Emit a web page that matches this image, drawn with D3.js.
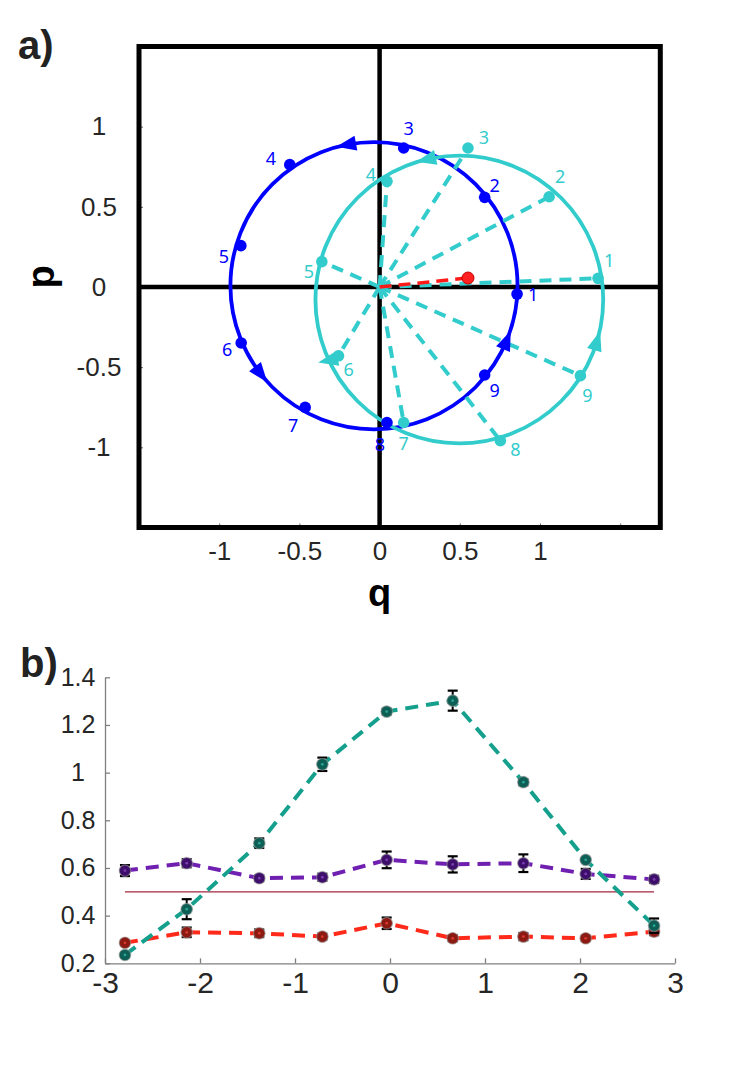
<!DOCTYPE html>
<html>
<head>
<meta charset="utf-8">
<script src="https://cdn.jsdelivr.net/npm/d3@7"></script>
<style>
  body { margin: 0; background: #fff; }
  svg { display: block; font-family: "Liberation Sans", Arial, sans-serif; }
</style>
</head>
<body>
<div id="chart"></div>
<script>
// ---------- data: panel a (phase space) ----------
const blueQ = [0.857, 0.655, 0.150, -0.560, -0.865, -0.863, -0.464, 0.046, 0.655];
const blueP = [-0.044, 0.559, 0.867, 0.763, 0.258, -0.349, -0.751, -0.845, -0.549];
const cyanQ = [1.362, 1.057, 0.551, 0.046, -0.360, -0.256, 0.150, 0.753, 1.252];
const cyanP = [0.054, 0.563, 0.867, 0.659, 0.158, -0.429, -0.845, -0.959, -0.553];
const pointLabels = ["1", "2", "3", "4", "5", "6", "7", "8", "9"];
const blueCircle = { q: -0.035, p: 0.008, r: 0.895 };
const cyanCircle = { q: 0.497, p: -0.078, r: 0.897 };
const redPoint = { q: 0.551, p: 0.056 };
// arrowheads: angle on circle (deg), heading (deg, math convention)
const blueArrowAt = [100.8, 217.8, 337.4];
const blueArrowHead = [190.8, 307.8, 67.4];
const cyanArrowAt = [103, 205, 343];
const cyanArrowHead = [193, 192, 73];
const qTicks = [-1, -0.5, 0, 0.5, 1, 1.5];
const qTickLabels = ["-1", "-0.5", "0", "0.5", "1", ""];
const pTicks = [-1, -0.5, 0, 0.5, 1];
const pTickLabels = ["-1", "-0.5", "0", "0.5", "1"];

// ---------- data: panel b ----------
const bX = [-2.79, -2.14, -1.376, -0.712, -0.035, 0.66, 1.404, 2.06, 2.78];
const tealY = [0.235, 0.427, 0.704, 1.035, 1.256, 1.302, 0.960, 0.634, 0.358];
const tealErr = [0.010, 0.042, 0.020, 0.028, 0.012, 0.042, 0.013, 0.005, 0.030];
const purpleY = [0.589, 0.620, 0.557, 0.561, 0.634, 0.615, 0.620, 0.575, 0.552];
const purpleErr = [0.023, 0.017, 0.012, 0.015, 0.035, 0.034, 0.037, 0.021, 0.015];
const redY = [0.286, 0.330, 0.326, 0.312, 0.368, 0.305, 0.312, 0.305, 0.333];
const redErr = [0.010, 0.020, 0.016, 0.012, 0.024, 0.012, 0.015, 0.010, 0.015];
const refLevel = 0.5;
const bXTicks = [-3, -2, -1, 0, 1, 2, 3];
const bXTickLabels = ["-3", "-2", "-1", "0", "1", "2", "3"];
const bYTicks = [0.2, 0.4, 0.6, 0.8, 1, 1.2, 1.4];
const bYTickLabels = ["0.2", "0.4", "0.6", "0.8", "1", "1.2", "1.4"];

// ---------- layout ----------
const W = 748, H = 1072;
const blueLabelOff = [[16, 0], [10, -12], [5, -20], [-19, -7], [-17, 10], [-14, 6], [-12, 18], [-7, 22], [10, 15]];
const cyanLabelOff = [[11, -18], [11, -21], [16, -11], [-16, -7], [-13, 9], [10, 13], [0, 21], [15, 8], [7, 19]];
const BLUE = "#0000ff", CYAN = "#33cccc";

const svg = d3.select("#chart").append("svg")
  .attr("width", W).attr("height", H);

// ================= panel a =================
const xq = d3.scaleLinear().domain([-1.5, 1.75]).range([139, 660.3]);
const yp = d3.scaleLinear().domain([-1.5, 1.5]).range([527.5, 46.5]);
const gA = svg.append("g");

// ticks + labels
const axA = gA.append("g").attr("transform", "translate(0," + yp(-1.5) + ")")
  .call(d3.axisBottom(xq).tickValues(qTicks).tickSize(-4).tickPadding(14)
    .tickFormat((d, i) => qTickLabels[i]));
const ayA = gA.append("g").attr("transform", "translate(" + xq(-1.5) + ",0)")
  .call(d3.axisLeft(yp).tickValues(pTicks).tickSize(-4).tickPadding(40)
    .tickFormat((d, i) => pTickLabels[i]));
[axA, ayA].forEach(a => {
  a.select(".domain").remove();
  a.selectAll("line").attr("stroke", "#666");
  a.selectAll("text").attr("font-size", 26).attr("fill", "#262626")
    .attr("font-family", "Liberation Sans, Arial, sans-serif");
});
ayA.selectAll("text").attr("text-anchor", "middle");

// frame and zero axes
gA.append("rect")
  .attr("x", xq(-1.5)).attr("y", yp(1.5))
  .attr("width", xq(1.75) - xq(-1.5)).attr("height", yp(-1.5) - yp(1.5))
  .attr("fill", "none").attr("stroke", "#000").attr("stroke-width", 5);
gA.append("line").attr("x1", xq(0)).attr("x2", xq(0))
  .attr("y1", yp(1.5)).attr("y2", yp(-1.5))
  .attr("stroke", "#000").attr("stroke-width", 4.5);
gA.append("line").attr("x1", xq(-1.5)).attr("x2", xq(1.75))
  .attr("y1", yp(0)).attr("y2", yp(0))
  .attr("stroke", "#000").attr("stroke-width", 4.5);

// circles
[[blueCircle, BLUE], [cyanCircle, CYAN]].forEach(([c, col]) => {
  gA.append("circle")
    .attr("cx", xq(c.q)).attr("cy", yp(c.p))
    .attr("r", xq(c.r) - xq(0))
    .attr("fill", "none").attr("stroke", col).attr("stroke-width", 3.8);
});

// dashed cyan rays from origin
gA.selectAll(".ray").data(cyanQ).enter().append("line")
  .attr("class", "ray")
  .attr("x1", xq(0)).attr("y1", yp(0))
  .attr("x2", d => xq(d)).attr("y2", (d, i) => yp(cyanP[i]))
  .attr("stroke", CYAN).attr("stroke-width", 4)
  .attr("stroke-dasharray", "12,8");

// red dashed ray
gA.append("line")
  .attr("x1", xq(0)).attr("y1", yp(0))
  .attr("x2", xq(redPoint.q)).attr("y2", yp(redPoint.p))
  .attr("stroke", "#ff1a1a").attr("stroke-width", 3.5)
  .attr("stroke-dasharray", "12,7");

// arrowheads
function arrows(c, at, head, col) {
  gA.selectAll(null).data(at).enter().append("path")
    .attr("d", "M11,0 L-9,-7.5 L-9,7.5 Z")
    .attr("fill", col)
    .attr("transform", (a, i) => {
      const rad = a * Math.PI / 180;
      const x = xq(c.q + c.r * Math.cos(rad));
      const y = yp(c.p + c.r * Math.sin(rad));
      return "translate(" + x + "," + y + ") rotate(" + (-head[i]) + ")";
    });
}
arrows(blueCircle, blueArrowAt, blueArrowHead, BLUE);
arrows(cyanCircle, cyanArrowAt, cyanArrowHead, CYAN);

// points + labels
function points(qs, ps, col, offs) {
  gA.selectAll(null).data(qs).enter().append("circle")
    .attr("cx", d => xq(d)).attr("cy", (d, i) => yp(ps[i]))
    .attr("r", 5.8).attr("fill", col);
  gA.selectAll(null).data(qs).enter().append("text")
    .attr("x", (d, i) => xq(d) + offs[i][0])
    .attr("y", (d, i) => yp(ps[i]) + offs[i][1])
    .attr("text-anchor", "middle").attr("dominant-baseline", "central")
    .attr("font-family", "Noto Sans, sans-serif").attr("font-size", 18)
    .attr("fill", col)
    .text((d, i) => pointLabels[i]);
}
points(cyanQ, cyanP, CYAN, cyanLabelOff);
points(blueQ, blueP, BLUE, blueLabelOff);

gA.append("circle")
  .attr("cx", xq(redPoint.q)).attr("cy", yp(redPoint.p))
  .attr("r", 6).attr("fill", "#ff2020").attr("stroke", "#c80000").attr("stroke-width", 1);

// axis titles and panel tag
gA.append("text").attr("x", xq(0)).attr("y", 606)
  .attr("text-anchor", "middle").attr("font-weight", "bold").attr("font-size", 38)
  .text("q");
gA.append("text").attr("transform", "translate(54,277) rotate(-90)")
  .attr("text-anchor", "middle").attr("font-weight", "bold").attr("font-size", 38)
  .text("p");
svg.append("text").attr("x", 18).attr("y", 59)
  .attr("font-weight", "bold").attr("font-size", 40).attr("fill", "#222")
  .text("a)");

// ================= panel b =================
const xb = d3.scaleLinear().domain([-3, 3]).range([105, 675]);
const yb = d3.scaleLinear().domain([0.2, 1.4]).range([963.3, 677.3]);
const gB = svg.append("g");

const axB = gB.append("g").attr("transform", "translate(0," + yb(0.2) + ")")
  .call(d3.axisBottom(xb).tickValues(bXTicks).tickSize(-5).tickSizeOuter(0).tickPadding(8)
    .tickFormat((d, i) => bXTickLabels[i]));
const ayB = gB.append("g").attr("transform", "translate(" + xb(-3) + ",0)")
  .call(d3.axisLeft(yb).tickValues(bYTicks).tickSize(-5).tickSizeOuter(0).tickPadding(27)
    .tickFormat((d, i) => bYTickLabels[i]));
[axB, ayB].forEach(a => {
  a.select(".domain").attr("stroke", "#808080").attr("stroke-width", 1.3);
  a.selectAll("line").attr("stroke", "#808080").attr("stroke-width", 1.3);
  a.selectAll("text").attr("fill", "#262626")
    .attr("font-family", "Liberation Sans, Arial, sans-serif");
});
axB.selectAll("text").attr("font-size", 30);
ayB.selectAll("text").attr("font-size", 25).attr("text-anchor", "middle");

// reference line
gB.append("line")
  .attr("x1", xb(bX[0])).attr("x2", xb(bX[bX.length - 1]))
  .attr("y1", yb(refLevel)).attr("y2", yb(refLevel))
  .attr("stroke", "#a3263f").attr("stroke-width", 1.2);

const series = [
  { y: redY, e: redErr, line: "#ff2a1a", fill: "#8c1a12", dot: "#d63a2e" },
  { y: purpleY, e: purpleErr, line: "#7020b0", fill: "#3d0f6b", dot: "#7a3cb0" },
  { y: tealY, e: tealErr, line: "#14a08c", fill: "#0d5e55", dot: "#2aa391" }
];
const lineGen = d3.line().x((d, i) => xb(bX[i])).y(d => yb(d));

series.forEach(s => {
  gB.append("path").datum(s.y)
    .attr("d", lineGen).attr("fill", "none")
    .attr("stroke", s.line).attr("stroke-width", 4)
    .attr("stroke-dasharray", "13,8");
});
series.forEach(s => {
  const g = gB.append("g");
  const eb = g.selectAll(null).data(s.y).enter().append("g");
  eb.append("line")
    .attr("x1", (d, i) => xb(bX[i])).attr("x2", (d, i) => xb(bX[i]))
    .attr("y1", (d, i) => yb(d - s.e[i])).attr("y2", (d, i) => yb(d + s.e[i]))
    .attr("stroke", "#000").attr("stroke-width", 2);
  [-1, 1].forEach(sg => {
    eb.append("line")
      .attr("x1", (d, i) => xb(bX[i]) - 5).attr("x2", (d, i) => xb(bX[i]) + 5)
      .attr("y1", (d, i) => yb(d + sg * s.e[i])).attr("y2", (d, i) => yb(d + sg * s.e[i]))
      .attr("stroke", "#000").attr("stroke-width", 2.2);
  });
  g.selectAll(null).data(s.y).enter().append("circle")
    .attr("cx", (d, i) => xb(bX[i])).attr("cy", d => yb(d))
    .attr("r", 5.8).attr("fill", s.fill)
    .attr("stroke", "#9a9a9a").attr("stroke-opacity", 0.6).attr("stroke-width", 1.2);
  g.selectAll(null).data(s.y).enter().append("circle")
    .attr("cx", (d, i) => xb(bX[i])).attr("cy", d => yb(d))
    .attr("r", 1.4).attr("fill", s.dot);
});

svg.append("text").attr("x", 20).attr("y", 677)
  .attr("font-weight", "bold").attr("font-size", 40).attr("fill", "#222")
  .text("b)");
</script>
</body>
</html>
